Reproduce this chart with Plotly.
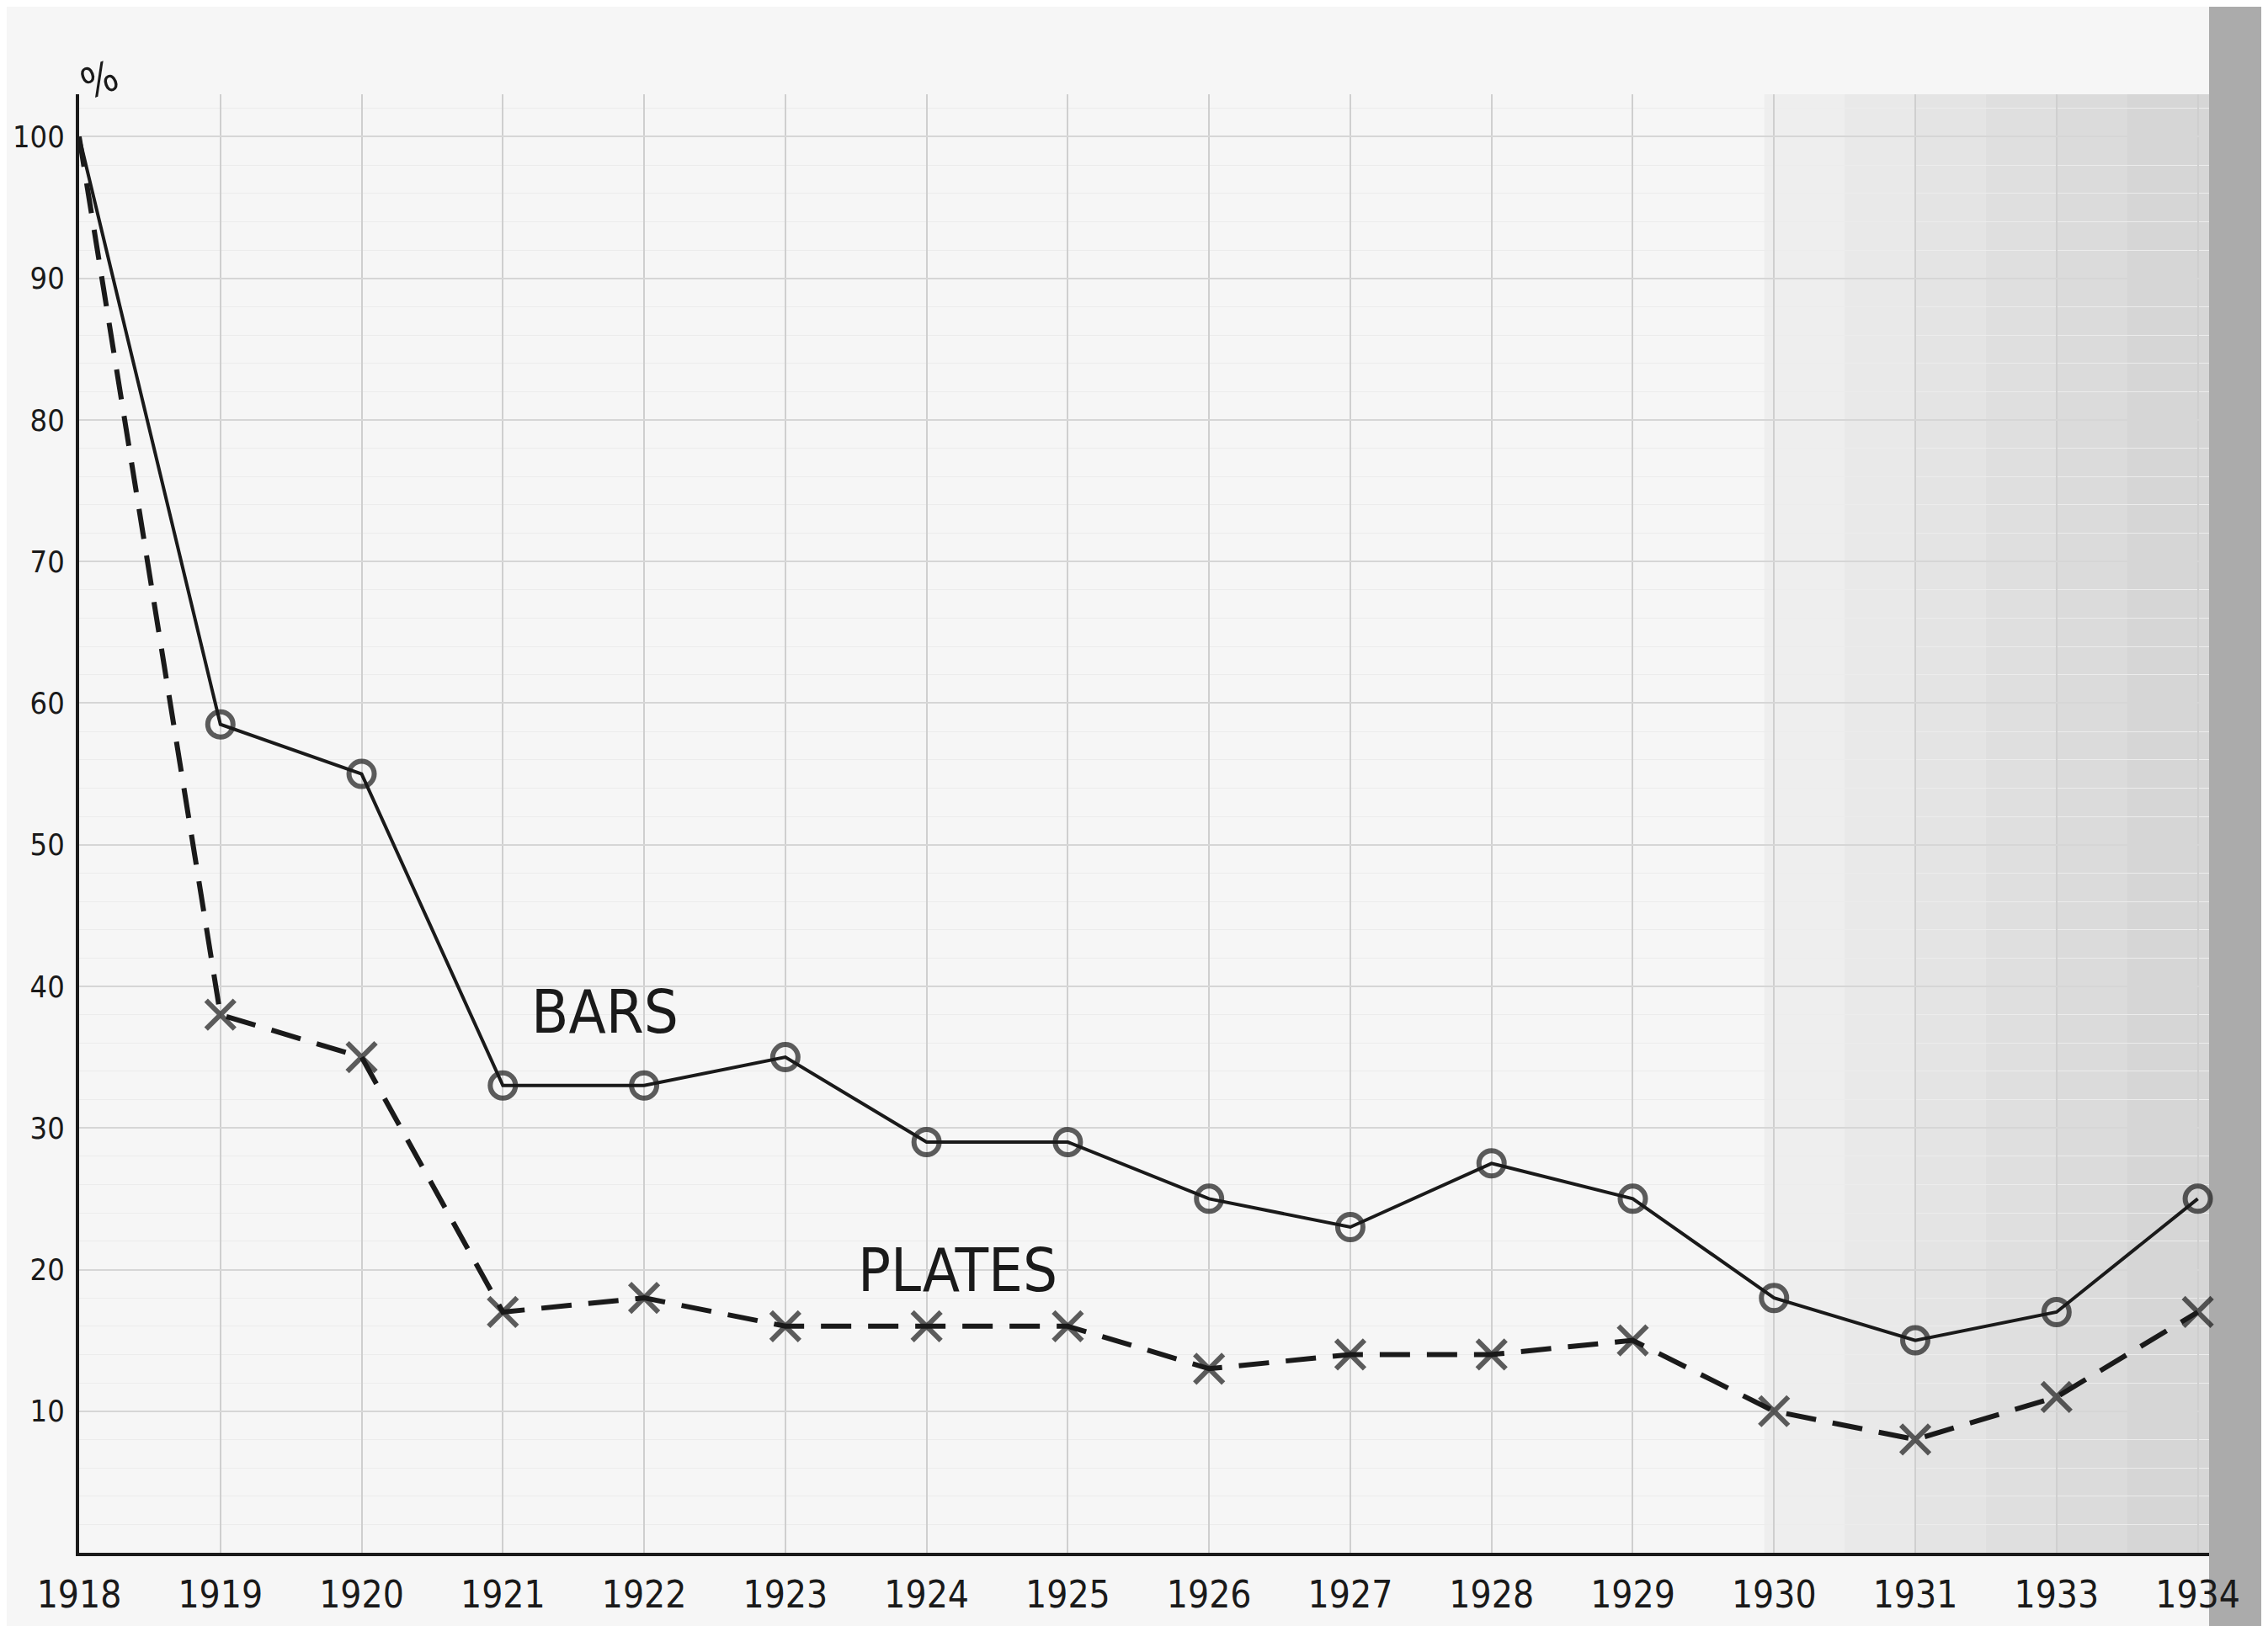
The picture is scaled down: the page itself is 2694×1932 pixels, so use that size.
import plotly.graph_objects as go

# ---- data ----
years = ["1918", "1919", "1920", "1921", "1922", "1923", "1924", "1925",
         "1926", "1927", "1928", "1929", "1930", "1931", "1933", "1934"]
bars = [100, 58.5, 55, 33, 33, 35, 29, 29, 25, 23, 27.5, 25, 18, 15, 17, 25]
plates = [100, 38, 35, 17, 18, 16, 16, 16, 13, 14, 14, 15, 10, 8, 11, 17]
y_ticks = [10, 20, 30, 40, 50, 60, 70, 80, 90, 100]

FONT = "Liberation Sans Narrow, DejaVu Sans Condensed, Arial Narrow, sans-serif"
INK = "#1a1a1a"

W, H = 2694, 1932
ML, MR, MT, MB = 86, 78, 104, 95
PW = W - ML - MR

fig = go.Figure()

# BARS: solid line with open circles (no marker at start)
fig.add_trace(go.Scatter(
    x=years, y=bars, mode="lines+markers", name="BARS",
    line=dict(color=INK, width=4),
    marker=dict(symbol="circle-open", size=[0] + [30] * (len(years) - 1),
                color=INK, line=dict(width=6)),
    cliponaxis=False,
))

# PLATES: dashed line with x markers
fig.add_trace(go.Scatter(
    x=years, y=plates, mode="lines+markers", name="PLATES",
    line=dict(color=INK, width=6, dash="36px,20px"),
    marker=dict(symbol="x-thin-open", size=[0] + [34] * (len(years) - 1),
                color=INK, line=dict(width=6, color=INK)),
    cliponaxis=False,
))

# graph-paper shading (scan darkening toward the right)
steps = [(11.93, 12.5, 0.03), (12.5, 13.0, 0.05), (13.0, 13.5, 0.07),
         (13.5, 14.0, 0.09), (14.0, 14.5, 0.11), (14.5, 15.08, 0.13)]
shapes = [dict(type="rect", xref="x", yref="paper", x0=a, x1=b, y0=0, y1=1,
               fillcolor=f"rgba(0,0,0,{o})", line=dict(width=0), layer="below")
          for a, b, o in steps]
shapes.append(dict(type="rect", xref="paper", yref="paper",
                   x0=(2616 - ML) / PW, x1=(W - ML) / PW, y0=-0.2, y1=1.2,
                   fillcolor="#ababab", line=dict(width=0), layer="below"))

annotations = [
    dict(x=3.72, y=38.2, xref="x", yref="y", text="BARS", showarrow=False,
         font=dict(family=FONT, size=72, color=INK)),
    dict(x=6.22, y=20.0, xref="x", yref="y", text="PLATES", showarrow=False,
         font=dict(family=FONT, size=72, color=INK)),
    dict(x=(78 - ML) / PW, y=(H - MB - 50) / (H - MT - MB),
         xref="paper", yref="paper", text="%", showarrow=False,
         font=dict(family=FONT, size=50, color=INK), textangle=-20),
]

fig.update_layout(
    width=W, height=H,
    margin=dict(l=ML, r=MR, t=MT, b=MB, pad=0, autoexpand=False),
    paper_bgcolor="#f6f6f6",
    plot_bgcolor="#f6f6f6",
    showlegend=False,
    shapes=shapes,
    annotations=annotations,
    font=dict(family=FONT, color=INK),
)

fig.update_xaxes(
    type="category", categoryorder="array", categoryarray=years,
    range=[0, 15.08], automargin=False,
    showline=True, linecolor=INK, linewidth=4,
    showgrid=True, gridcolor="#cfcfcf", gridwidth=2,
    ticks="", tickfont=dict(family=FONT, size=44, color=INK),
    ticklabelstandoff=8, zeroline=False,
)
fig.update_yaxes(
    range=[0, 103], automargin=False,
    tickvals=y_ticks, ticktext=[str(v) for v in y_ticks],
    showline=True, linecolor=INK, linewidth=4,
    showgrid=True, gridcolor="#d6d6d6", gridwidth=2,
    minor=dict(dtick=2, showgrid=True, gridcolor="#ececec", gridwidth=1),
    ticks="", tickfont=dict(family=FONT, size=36, color=INK),
    ticklabelstandoff=6, zeroline=False,
)

fig.write_html("out.html")
